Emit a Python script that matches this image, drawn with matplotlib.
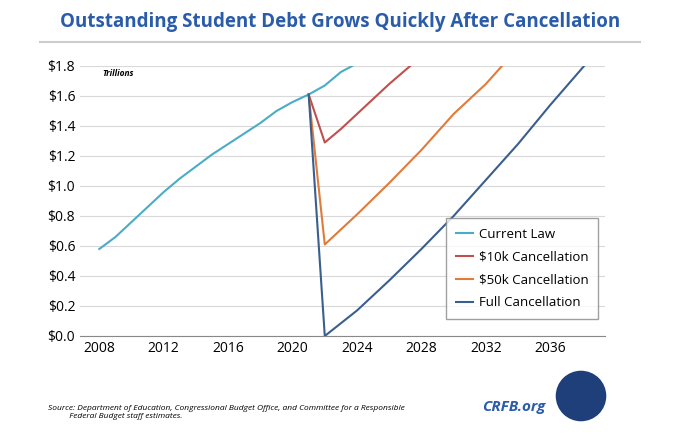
import matplotlib
matplotlib.use("Agg")
import matplotlib.pyplot as plt
from matplotlib.patches import Ellipse

cl_x = [2008,2009,2010,2011,2012,2013,2014,2015,2016,2017,2018,2019,2020,2021,2022,2023,2023.7]
cl_y = [0.58,0.66,0.76,0.86,0.96,1.05,1.13,1.21,1.28,1.35,1.42,1.50,1.56,1.61,1.67,1.76,1.80]
k10_x = [2021,2022,2023,2024,2025,2026,2027.3]
k10_y = [1.61,1.29,1.38,1.48,1.58,1.68,1.80]
k50_x = [2021,2022,2024,2026,2028,2030,2032,2033]
k50_y = [1.61,0.61,0.81,1.02,1.24,1.48,1.68,1.80]
full_x = [2021,2022,2024,2026,2028,2030,2032,2034,2036,2038.1]
full_y = [1.61,0.0,0.17,0.37,0.58,0.80,1.04,1.28,1.54,1.80]
xticks = [2008,2012,2016,2020,2024,2028,2032,2036]
yticks = [0,0.2,0.4,0.6,0.8,1.0,1.2,1.4,1.6,1.8]

plt.rcParams['font.family'] = ['Open Sans', 'DejaVu Sans']
fig = plt.figure(figsize=(6.8,4.42), dpi=100)
ax = fig.add_axes([80/680, 1-336/442, 525/680, 270/442])
ax.plot(cl_x, cl_y, color="#4bacc6", lw=1.5, label="Current Law")
ax.plot(k10_x, k10_y, color="#c0504d", lw=1.5, label="$10k Cancellation")
ax.plot(k50_x, k50_y, color="#e07b39", lw=1.5, label="$50k Cancellation")
ax.plot(full_x, full_y, color="#3a5f8f", lw=1.5, label="Full Cancellation")
ax.set_xlim(2006.8, 2039.4)
ax.set_ylim(0, 1.8)
ax.set_xticks(xticks)
ax.set_yticks(yticks)
ax.set_yticklabels([f"${v:.1f}" for v in yticks])
ax.tick_params(labelsize=10, length=0)
ax.grid(axis="y", color="#d9d9d9", lw=0.8)
for s in ["top","right","left"]:
    ax.spines[s].set_visible(False)
ax.spines["bottom"].set_color("#888888")
ax.text(2008.2, 1.78, "Trillions", fontsize=6, style="italic", fontweight="bold", va="top")
leg = ax.legend(loc="lower right", bbox_to_anchor=(1.0, 0.04), fontsize=9.5, frameon=True,
                fancybox=False, edgecolor="#888888", borderpad=0.7, labelspacing=0.75,
                handlelength=1.3, handletextpad=0.5)
leg.get_frame().set_linewidth(1.0)

fig.text(0.5, 1-22/442, "Outstanding Student Debt Grows Quickly After Cancellation",
         ha="center", va="center", fontsize=13.5, fontweight="bold", color="#2a5caa")
fig.add_artist(plt.Line2D([40/680, 640/680], [1-42/442]*2, color="#cccccc", lw=1.5))
fig.text(48/680, 1-412/442, "Source: Department of Education, Congressional Budget Office, and Committee for a Responsible\n          Federal Budget staff estimates.",
         fontsize=6, style="italic", va="center")
fig.text(545/680, 1-407/442, "CRFB.org", fontsize=11, style="italic", fontweight="bold",
         color="#2a5caa", ha="right", va="center")
fig.add_artist(Ellipse((581/680, 1-396/442), 52/680, 52/442, transform=fig.transFigure,
                      facecolor="#1f3f7a", edgecolor="white"))
fig.savefig("out.png", dpi=100)
